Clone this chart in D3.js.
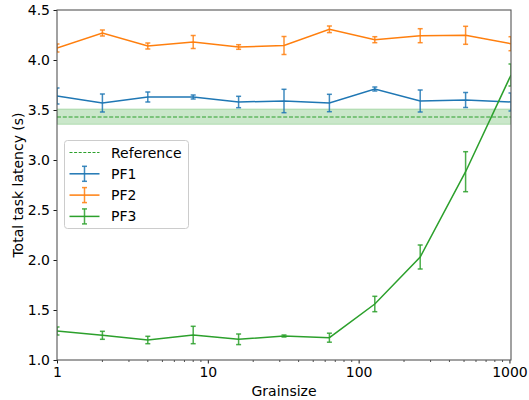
<!DOCTYPE html>
<html>
<head>
<meta charset="utf-8">
<script src="https://cdn.jsdelivr.net/npm/d3@7"></script>
<style>
  html, body { margin: 0; padding: 0; background: #fff; }
  svg { display: block; font-family: "DejaVu Sans", sans-serif; }
</style>
</head>
<body>
<svg id="chart" width="529" height="400"></svg>
<script>
// Grain sizes (powers of two)
const grainsizes = [1, 2, 4, 8, 16, 32, 64, 128, 256, 512, 1024];

// Mean total task latency (s) and error half-widths per policy
const pf1Mean = [3.64, 3.57, 3.63, 3.63, 3.58, 3.59, 3.57, 3.71, 3.59, 3.60, 3.58];
const pf1Err  = [0.08, 0.09, 0.05, 0.02, 0.057, 0.117, 0.087, 0.02, 0.11, 0.075, 0.09];
const pf2Mean = [4.12, 4.27, 4.14, 4.18, 4.13, 4.145, 4.307, 4.203, 4.243, 4.247, 4.163];
const pf2Err  = [0.04, 0.03, 0.03, 0.065, 0.023, 0.09, 0.033, 0.03, 0.07, 0.09, 0.07];
const pf3Mean = [1.29, 1.247, 1.20, 1.25, 1.207, 1.24, 1.223, 1.56, 2.03, 2.883, 3.85];
const pf3Err  = [0.04, 0.04, 0.037, 0.087, 0.053, 0.01, 0.045, 0.077, 0.12, 0.2, 0.11];

// Reference latency and its band
const referenceValue = 3.43;
const referenceBand = [3.357, 3.51];

const yTicks = [1.0, 1.5, 2.0, 2.5, 3.0, 3.5, 4.0, 4.5];
const xTicks = [1, 10, 100, 1000];

const series = [
  { name: "PF1", color: "#1f77b4", mean: pf1Mean, err: pf1Err },
  { name: "PF2", color: "#ff7f0e", mean: pf2Mean, err: pf2Err },
  { name: "PF3", color: "#2ca02c", mean: pf3Mean, err: pf3Err }
];

const svg = d3.select("#chart");
const plotLeft = 57, plotRight = 511, plotTop = 10, plotBottom = 360;
const fontSize = 14;

const x = d3.scaleLog().domain([1, 1024]).range([plotLeft, plotRight]);
const y = d3.scaleLinear().domain([1.0, 4.5]).range([plotBottom, plotTop]);

svg.append("defs").append("clipPath").attr("id", "plotClip")
  .append("rect").attr("x", plotLeft).attr("y", plotTop)
  .attr("width", plotRight - plotLeft).attr("height", plotBottom - plotTop);

const plot = svg.append("g").attr("clip-path", "url(#plotClip)");

// Reference band and dashed line
plot.append("rect")
  .attr("x", plotLeft).attr("width", plotRight - plotLeft)
  .attr("y", y(referenceBand[1]))
  .attr("height", y(referenceBand[0]) - y(referenceBand[1]))
  .attr("fill", "#2ca02c").attr("fill-opacity", 0.25)
  .attr("stroke", "#2ca02c").attr("stroke-opacity", 0.25).attr("stroke-width", 1);

plot.append("line")
  .attr("x1", plotLeft).attr("x2", plotRight)
  .attr("y1", y(referenceValue)).attr("y2", y(referenceValue))
  .attr("stroke", "#2ca02c").attr("stroke-width", 1.2)
  .attr("stroke-dasharray", "4,1.8");

const line = d3.line().x(d => x(d.g)).y(d => y(d.m));
const cap = 2.5;

series.forEach(s => {
  const pts = grainsizes.map((g, i) => ({ g, m: s.mean[i], e: s.err[i] }));
  const g = plot.append("g");
  g.append("path").datum(pts).attr("d", line)
    .attr("fill", "none").attr("stroke", s.color).attr("stroke-width", 1.5);
  const eb = g.selectAll("g.eb").data(pts).join("g").attr("class", "eb")
    .attr("stroke", s.color).attr("stroke-width", 1.5).attr("stroke-opacity", 0.85);
  eb.append("line")
    .attr("x1", d => x(d.g)).attr("x2", d => x(d.g))
    .attr("y1", d => y(d.m - d.e)).attr("y2", d => y(d.m + d.e));
  eb.append("line")
    .attr("x1", d => x(d.g) - cap).attr("x2", d => x(d.g) + cap)
    .attr("y1", d => y(d.m + d.e)).attr("y2", d => y(d.m + d.e));
  eb.append("line")
    .attr("x1", d => x(d.g) - cap).attr("x2", d => x(d.g) + cap)
    .attr("y1", d => y(d.m - d.e)).attr("y2", d => y(d.m - d.e));
});

// Axes
const xAxis = d3.axisBottom(x).tickValues(xTicks).tickFormat(d3.format("d"))
  .tickSizeInner(3.5).tickSizeOuter(0).tickPadding(3.5);
const gx = svg.append("g").attr("transform", `translate(0,${plotBottom})`).call(xAxis);

// Minor log ticks
const minor = [];
for (let dec = 1; dec < 1000; dec *= 10) {
  for (let k = 2; k <= 9; k++) minor.push(dec * k);
}
svg.append("g").selectAll("line").data(minor.filter(v => v <= 1024)).join("line")
  .attr("x1", d => x(d)).attr("x2", d => x(d))
  .attr("y1", plotBottom).attr("y2", plotBottom + 2)
  .attr("stroke", "#000").attr("stroke-width", 0.7);

const yAxis = d3.axisLeft(y).tickValues(yTicks).tickFormat(d3.format(".1f"))
  .tickSizeInner(3.5).tickSizeOuter(0).tickPadding(3.5);
const gy = svg.append("g").attr("transform", `translate(${plotLeft},0)`).call(yAxis);

[gx, gy].forEach(g => {
  g.selectAll("text").attr("font-size", fontSize).attr("font-family", "DejaVu Sans").attr("fill", "#000");
  g.selectAll(".tick line").attr("stroke", "#000").attr("stroke-width", 0.9);
  g.select(".domain").remove();
});

// Frame
svg.append("rect").attr("x", plotLeft).attr("y", plotTop)
  .attr("width", plotRight - plotLeft).attr("height", plotBottom - plotTop)
  .attr("fill", "none").attr("stroke", "#555").attr("stroke-width", 1.1);

// Axis labels
svg.append("text").attr("x", (plotLeft + plotRight) / 2).attr("y", 396)
  .attr("text-anchor", "middle").attr("font-size", fontSize).text("Grainsize");
svg.append("text")
  .attr("transform", `translate(22.5,${(plotTop + plotBottom) / 2}) rotate(-90)`)
  .attr("text-anchor", "middle").attr("font-size", fontSize).text("Total task latency (s)");

// Legend
const lg = svg.append("g");
lg.append("rect").attr("x", 64.5).attr("y", 140.5).attr("width", 124).attr("height", 88)
  .attr("rx", 3).attr("fill", "#fff").attr("fill-opacity", 0.8)
  .attr("stroke", "#ccc").attr("stroke-width", 1);

const legendItems = [{ name: "Reference", color: "#2ca02c", ref: true }].concat(series);
const hx0 = 69.5, hx1 = 99.5, tx = 111;
legendItems.forEach((it, i) => {
  const cy = 152.5 + i * 21.3;
  const g = lg.append("g");
  if (it.ref) {
    g.append("line").attr("x1", hx0).attr("x2", hx1).attr("y1", cy).attr("y2", cy)
      .attr("stroke", it.color).attr("stroke-width", 1.2).attr("stroke-dasharray", "3,1.6");
  } else {
    g.append("line").attr("x1", hx0).attr("x2", hx1).attr("y1", cy).attr("y2", cy)
      .attr("stroke", it.color).attr("stroke-width", 1.5);
    const mx = (hx0 + hx1) / 2;
    const eg = g.append("g").attr("stroke", it.color).attr("stroke-width", 1.5).attr("stroke-opacity", 0.85);
    eg.append("line").attr("x1", mx).attr("x2", mx).attr("y1", cy - 7.5).attr("y2", cy + 7.5);
    eg.append("line").attr("x1", mx - cap).attr("x2", mx + cap).attr("y1", cy - 7.5).attr("y2", cy - 7.5);
    eg.append("line").attr("x1", mx - cap).attr("x2", mx + cap).attr("y1", cy + 7.5).attr("y2", cy + 7.5);
  }
  g.append("text").attr("x", tx).attr("y", cy).attr("dy", "0.36em")
    .attr("font-size", fontSize).text(it.name);
});
</script>
</body>
</html>
